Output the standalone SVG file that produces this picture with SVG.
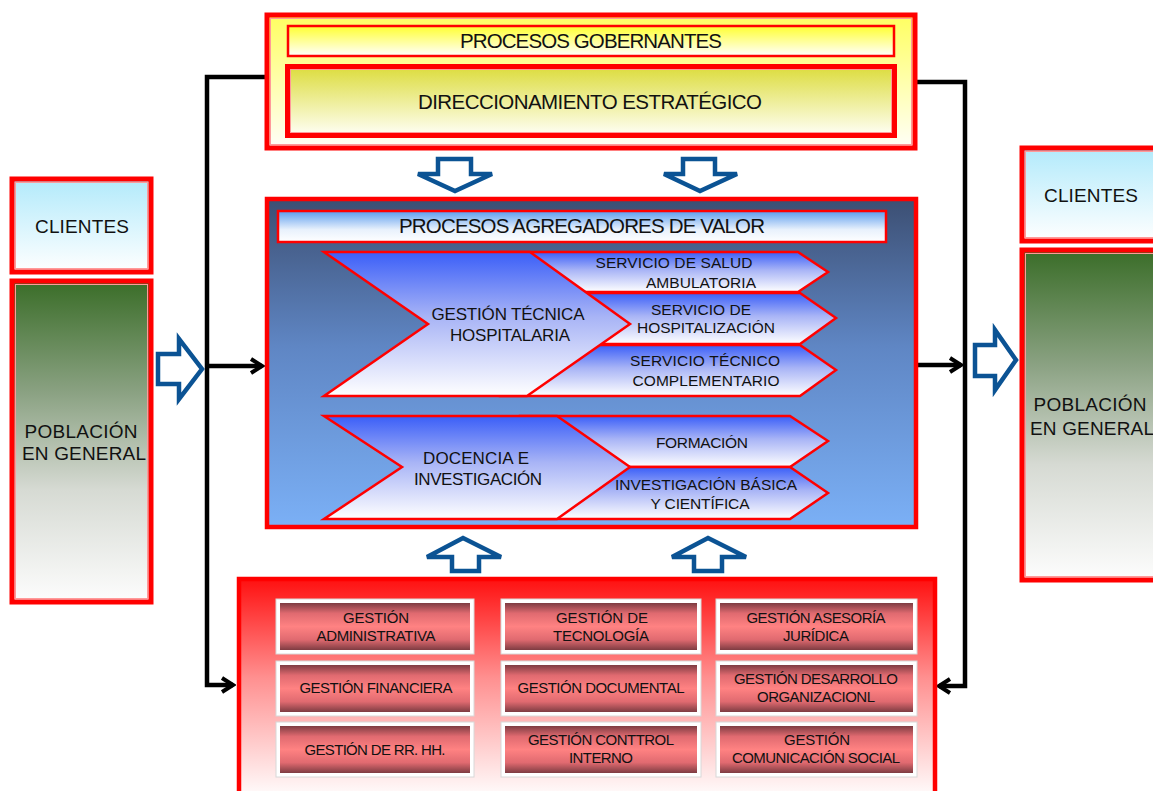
<svg xmlns="http://www.w3.org/2000/svg" width="1153" height="791" viewBox="0 0 1153 791">
<defs>
<linearGradient id="gYellow" x1="0" y1="0" x2="0" y2="1"><stop offset="0" stop-color="#ffff60"/><stop offset="1" stop-color="#fffff8"/></linearGradient>
<linearGradient id="gYellow2" x1="0" y1="0" x2="0" y2="1"><stop offset="0" stop-color="#ffff30"/><stop offset="1" stop-color="#ffffff"/></linearGradient>
<linearGradient id="gOlive" x1="0" y1="0" x2="0" y2="1"><stop offset="0" stop-color="#dcdc3c"/><stop offset="1" stop-color="#fffff6"/></linearGradient>
<linearGradient id="gCyan" x1="0" y1="0" x2="0" y2="1"><stop offset="0" stop-color="#b2eafb"/><stop offset="1" stop-color="#ffffff"/></linearGradient>
<linearGradient id="gGreen" x1="0" y1="0" x2="0" y2="1"><stop offset="0" stop-color="#3a6d28"/><stop offset="0.35" stop-color="#8ba283"/><stop offset="0.65" stop-color="#d6dad3"/><stop offset="1" stop-color="#fdfdfd"/></linearGradient>
<linearGradient id="gNavy" x1="0" y1="0" x2="0" y2="1"><stop offset="0" stop-color="#3c4f73"/><stop offset="0.45" stop-color="#5f86c4"/><stop offset="1" stop-color="#7bb0f6"/></linearGradient>
<linearGradient id="gTitle" x1="0" y1="0" x2="0" y2="1"><stop offset="0" stop-color="#5b9cee"/><stop offset="0.6" stop-color="#e8f1fc"/><stop offset="1" stop-color="#ffffff"/></linearGradient>
<linearGradient id="gChev" x1="0" y1="0" x2="0" y2="1"><stop offset="0" stop-color="#3a5ef8"/><stop offset="0.45" stop-color="#a8b4f6"/><stop offset="1" stop-color="#ffffff"/></linearGradient>
<linearGradient id="gRed" x1="0" y1="0" x2="0" y2="1"><stop offset="0" stop-color="#ff1010"/><stop offset="0.45" stop-color="#ff9090"/><stop offset="1" stop-color="#ffffff"/></linearGradient>
<linearGradient id="gCell" x1="0" y1="0" x2="0" y2="1"><stop offset="0" stop-color="#7e3c42"/><stop offset="0.22" stop-color="#e06a70"/><stop offset="0.5" stop-color="#ff8282"/><stop offset="0.78" stop-color="#e06a70"/><stop offset="1" stop-color="#7e3c42"/></linearGradient>
<marker id="arr" markerUnits="userSpaceOnUse" markerWidth="16" markerHeight="18" refX="13" refY="9" orient="auto">
<path d="M2,2 L13,9 L2,16" fill="none" stroke="#000" stroke-width="4"/>
</marker>
<style>
text{font-family:"Liberation Sans",Arial,sans-serif;fill:#111;text-anchor:middle}
.t19{font-size:20.5px}
.t17{font-size:19px}
.t15{font-size:17px}
.t14{font-size:15.5px}
.cell{font-size:15px}
.hl{stroke:#ff9a9a;stroke-width:1;fill:none}
.chev{fill:url(#gChev);stroke:#ff0000;stroke-width:2.5}
.blk{fill:#fff;stroke:#0b5394;stroke-width:4.5;stroke-linejoin:miter}
.conn{fill:none;stroke:#000;stroke-width:4.5}
.cellout{fill:#fff;stroke:#d8d8d8;stroke-width:1}
.cellin{fill:url(#gCell)}
</style>
</defs>

<g id="connectors">
<path class="conn" d="M266,77 H207 V685 H233" marker-end="url(#arr)"/>
<path class="conn" d="M207,366 H262" marker-end="url(#arr)"/>
<path class="conn" d="M917,82 H965 V686 H939" marker-end="url(#arr)"/>
<path class="conn" d="M918,365 H961" marker-end="url(#arr)"/>
</g>

<g id="gobernantes">
<rect x="267" y="15" width="648" height="133" fill="url(#gYellow)" stroke="#ff0000" stroke-width="5"/>
<rect x="270.5" y="18.5" width="641" height="126" class="hl"/>
<g id="procesos-gobernantes">
<rect x="288" y="26" width="606" height="30" fill="url(#gYellow2)" stroke="#ff0000" stroke-width="2.5"/>
<text class="t19" x="591" y="48" textLength="262">PROCESOS GOBERNANTES</text>
</g>
<g id="direccionamiento">
<rect x="287.5" y="66.5" width="607" height="69" fill="url(#gOlive)" stroke="#ff0000" stroke-width="5"/>
<rect x="290.5" y="69.5" width="601" height="63" class="hl"/>
<text class="t19" x="590" y="109" textLength="344">DIRECCIONAMIENTO ESTRATÉGICO</text>
</g>
</g>

<g id="arrows-down">
<polygon class="blk" points="438,159 471,159 471,174 492,174 455,191 418,174 438,174"/>
<polygon class="blk" points="683,159 715,159 715,174 737,174 700,191 664,174 683,174"/>
</g>

<g id="agregadores">
<rect x="267" y="199" width="649" height="328" fill="url(#gNavy)" stroke="#ff0000" stroke-width="4.5"/>
<g id="titulo-agregadores">
<rect x="278" y="211" width="608" height="31" fill="url(#gTitle)" stroke="#ff0000" stroke-width="2.5"/>
<text class="t19" x="582" y="233" textLength="366">PROCESOS AGREGADORES DE VALOR</text>
</g>
<g id="servicio-ambulatoria">
<polygon class="chev" points="500,252 798,252 828,272 798,292 500,292"/>
<text class="t14" x="674" y="268" textLength="157">SERVICIO DE SALUD</text>
<text class="t14" x="701" y="288" textLength="110">AMBULATORIA</text>
</g>
<g id="servicio-hospitalizacion">
<polygon class="chev" points="560,293 800,293 836,318 800,344 560,344"/>
<text class="t14" x="701" y="315" textLength="100">SERVICIO DE</text>
<text class="t14" x="706" y="333" textLength="138">HOSPITALIZACIÓN</text>
</g>
<g id="servicio-tecnico">
<polygon class="chev" points="500,345 800,345 836,370 800,396 500,396"/>
<text class="t14" x="705" y="366" textLength="150">SERVICIO TÉCNICO</text>
<text class="t14" x="706" y="386" textLength="147">COMPLEMENTARIO</text>
</g>
<g id="gestion-tecnica">
<polygon class="chev" points="324,252 530,252 630,324 527,396 324,396 428,324"/>
<text class="t15" x="508" y="320" textLength="153">GESTIÓN  TÉCNICA</text>
<text class="t15" x="510" y="341" textLength="120">HOSPITALARIA</text>
</g>
<g id="formacion">
<polygon class="chev" points="520,416 790,416 828,441 790,467 520,467"/>
<text class="t14" x="702" y="448" textLength="92">FORMACIÓN</text>
</g>
<g id="investigacion-basica">
<polygon class="chev" points="520,467 790,467 828,493 790,519 520,519"/>
<text class="t14" x="706" y="490" textLength="182">INVESTIGACIÓN BÁSICA</text>
<text class="t14" x="700" y="509" textLength="99">Y CIENTÍFICA</text>
</g>
<g id="docencia">
<polygon class="chev" points="324,416 557,416 630,467 557,519 324,519 402,467"/>
<text class="t15" x="476" y="464" textLength="106">DOCENCIA E</text>
<text class="t15" x="478" y="485" textLength="128">INVESTIGACIÓN</text>
</g>
</g>

<g id="arrows-up">
<polygon class="blk" points="463,538 501,557 479,557 479,571 452,571 452,557 427,557"/>
<polygon class="blk" points="708,538 746,557 722,557 722,571 694,571 694,557 672,557"/>
</g>

<g id="apoyo">
<rect x="239" y="579" width="696" height="220" fill="url(#gRed)" stroke="#ff0000" stroke-width="4.5"/>
<g id="g-administrativa">
<rect class="cellout" x="276" y="599" width="198" height="55"/>
<rect class="cellin" x="280" y="603" width="190" height="47"/>
<text class="cell" x="376" y="623" textLength="66">GESTIÓN</text>
<text class="cell" x="376" y="641" textLength="119">ADMINISTRATIVA</text>
</g>
<g id="g-tecnologia">
<rect class="cellout" x="501" y="599" width="200" height="55"/>
<rect class="cellin" x="505" y="603" width="192" height="47"/>
<text class="cell" x="602" y="623" textLength="92">GESTIÓN  DE</text>
<text class="cell" x="601" y="641" textLength="96">TECNOLOGÍA</text>
</g>
<g id="g-juridica">
<rect class="cellout" x="716" y="599" width="201" height="55"/>
<rect class="cellin" x="720" y="603" width="193" height="47"/>
<text class="cell" x="816" y="623" textLength="139">GESTIÓN ASESORÍA</text>
<text class="cell" x="816" y="641" textLength="66">JURÍDICA</text>
</g>
<g id="g-financiera">
<rect class="cellout" x="276" y="661" width="198" height="55"/>
<rect class="cellin" x="280" y="665" width="190" height="47"/>
<text class="cell" x="376" y="693" textLength="153">GESTIÓN FINANCIERA</text>
</g>
<g id="g-documental">
<rect class="cellout" x="501" y="661" width="200" height="55"/>
<rect class="cellin" x="505" y="665" width="192" height="47"/>
<text class="cell" x="601" y="693" textLength="167">GESTIÓN DOCUMENTAL</text>
</g>
<g id="g-desarrollo">
<rect class="cellout" x="716" y="661" width="201" height="55"/>
<rect class="cellin" x="720" y="665" width="193" height="47"/>
<text class="cell" x="816" y="684" textLength="164">GESTIÓN DESARROLLO</text>
<text class="cell" x="816" y="702" textLength="118">ORGANIZACIONL</text>
</g>
<g id="g-rrhh">
<rect class="cellout" x="276" y="722" width="198" height="55"/>
<rect class="cellin" x="280" y="726" width="190" height="47"/>
<text class="cell" x="375" y="755" textLength="141">GESTIÓN DE RR. HH.</text>
</g>
<g id="g-control">
<rect class="cellout" x="501" y="722" width="200" height="55"/>
<rect class="cellin" x="505" y="726" width="192" height="47"/>
<text class="cell" x="601" y="745" textLength="146">GESTIÓN CONTTROL</text>
<text class="cell" x="601" y="763" textLength="64">INTERNO</text>
</g>
<g id="g-comunicacion">
<rect class="cellout" x="716" y="722" width="201" height="55"/>
<rect class="cellin" x="720" y="726" width="193" height="47"/>
<text class="cell" x="817" y="745" textLength="66">GESTIÓN</text>
<text class="cell" x="816" y="763" textLength="168">COMUNICACIÓN SOCIAL</text>
</g>
</g>

<g id="clientes-izq">
<rect x="12" y="179" width="139" height="93" fill="url(#gCyan)" stroke="#ff0000" stroke-width="5"/>
<rect x="15.5" y="182.5" width="132" height="86" class="hl"/>
<text class="t17" x="82" y="233" textLength="94">CLIENTES</text>
</g>
<g id="poblacion-izq">
<rect x="12" y="281" width="139" height="321" fill="url(#gGreen)" stroke="#ff0000" stroke-width="5"/>
<rect x="15.5" y="284.5" width="132" height="314" class="hl"/>
<text class="t17" x="81" y="438" textLength="113">POBLACIÓN</text>
<text class="t17" x="84" y="460" textLength="124">EN GENERAL</text>
</g>
<g id="flecha-izq">
<polygon class="blk" points="158,354 179,354 179,339 202,369 179,399 179,384 158,384"/>
</g>

<g id="flecha-der">
<polygon class="blk" points="975,345 995,345 995,330 1016,360 995,390 995,376 975,376"/>
</g>
<g id="clientes-der">
<rect x="1022" y="148" width="150" height="93" fill="url(#gCyan)" stroke="#ff0000" stroke-width="5"/>
<rect x="1025.5" y="151.5" width="143" height="86" class="hl"/>
<text class="t17" x="1091" y="202" textLength="94">CLIENTES</text>
</g>
<g id="poblacion-der">
<rect x="1022" y="250" width="150" height="330" fill="url(#gGreen)" stroke="#ff0000" stroke-width="5"/>
<rect x="1025.5" y="253.5" width="143" height="323" class="hl"/>
<text class="t17" x="1090" y="411" textLength="113">POBLACIÓN</text>
<text class="t17" x="1092" y="435" textLength="124">EN GENERAL</text>
</g>
</svg>
